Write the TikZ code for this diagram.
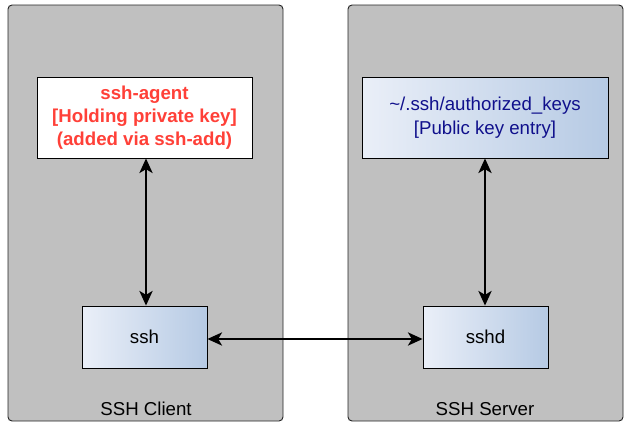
\documentclass[tikz,border=0pt]{standalone}
\usepackage{fontspec}
\setmainfont{Liberation Sans}
\usetikzlibrary{arrows.meta}
\definecolor{clustergray}{RGB}{192,192,192}
\definecolor{gradleft}{RGB}{234,239,248}
\definecolor{gradright}{RGB}{182,202,228}
\definecolor{agentred}{RGB}{255,64,56}
\definecolor{keynavy}{RGB}{16,16,140}
\tikzset{
  cluster/.style={draw=black!85, fill=clustergray, rounded corners=3pt, line width=0.7pt},
  gradbox/.style={draw=black, line width=0.7pt, left color=gradleft, right color=gradright, inner sep=0pt},
  whitebox/.style={draw=black, line width=0.7pt, fill=white, inner sep=0pt},
  conn/.style={line width=1.1pt, {Stealth[length=11pt,width=10pt,inset=3pt]}-{Stealth[length=11pt,width=10pt,inset=3pt]}},
  lbl/.style={font=\fontsize{14pt}{17pt}\selectfont}
}
\begin{document}
\begin{tikzpicture}[x=0.75pt,y=-0.75pt]
\useasboundingbox (0,0) rectangle (632,432);
\draw[cluster] (8,5) rectangle (283,421);
\draw[cluster] (348,5) rectangle (623,421);
\node[lbl] (clientlbl) at (146,409) {SSH Client};
\node[lbl] (serverlbl) at (485,409) {SSH Server};
\node[whitebox, minimum width=161.25pt, minimum height=60.75pt, align=center, text=agentred, font=\bfseries\fontsize{14pt}{17.25pt}\selectfont] (agent) at (144.5,117.5) {ssh-agent\\{}{[Holding private key]}\\(added via ssh-add)};
\node[gradbox, minimum width=184.5pt, minimum height=60.75pt, align=center, text=keynavy, font=\fontsize{14pt}{18pt}\selectfont] (keys) at (485,117.5) {\textasciitilde/.ssh/authorized\_keys\\{}{[Public key entry]}};
\node[gradbox, minimum width=93.75pt, minimum height=46.5pt, lbl] (ssh) at (144.5,337) {ssh};
\node[gradbox, minimum width=93.75pt, minimum height=46.5pt, lbl] (sshd) at (485.5,337) {sshd};
\draw[conn] (agent.south -| 146,0) -- (ssh.north -| 146,0);
\draw[conn] (keys.south) -- (keys.south |- sshd.north);
\draw[conn] (ssh.east |- 0,339) -- (sshd.west |- 0,339);
\end{tikzpicture}
\end{document}
